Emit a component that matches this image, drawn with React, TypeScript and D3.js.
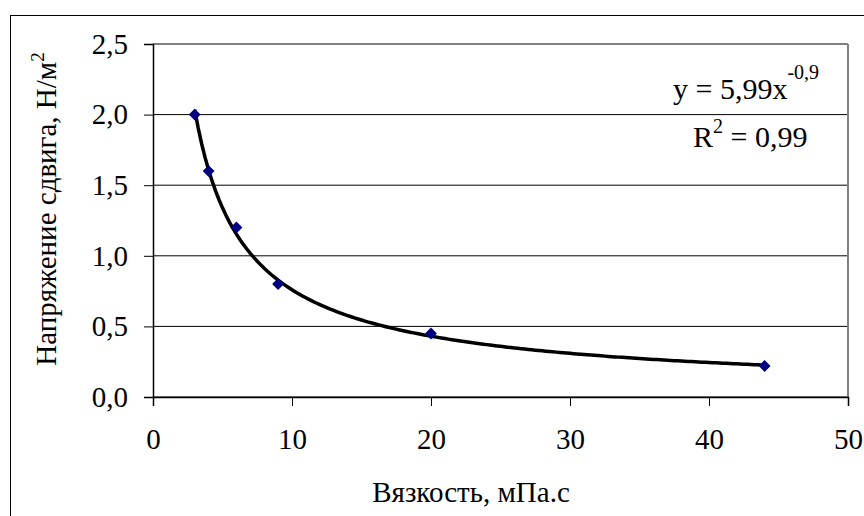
import * as d3 from "d3";
import { useEffect, useRef } from "react";

const viscosity = [3, 4, 6, 9, 20, 44];
const shearStress = [2.0, 1.6, 1.2, 0.8, 0.45, 0.22];
const xTicks = [0, 10, 20, 30, 40, 50];
const yTicks = [0, 0.5, 1.0, 1.5, 2.0, 2.5];

const fmt = (v: number) => v.toFixed(1).replace(".", ",");

export default function App() {
  const svgRef = useRef<SVGSVGElement>(null);
  const width = 864;
  const height = 516;
  const plot = { left: 153, right: 848, top: 44, bottom: 397 };
  const ff = "Liberation Serif";

  useEffect(() => {
    const svg = d3.select(svgRef.current);
    svg.selectAll("*").remove();

    const x = d3.scaleLinear().domain([0, 50]).range([plot.left, plot.right]);
    const y = d3.scaleLinear().domain([0, 2.5]).range([plot.bottom, plot.top]);

    svg.append("rect").attr("width", width).attr("height", height).attr("fill", "#fff");
    svg.append("rect").attr("x", 10.5).attr("y", 15.5).attr("width", width).attr("height", height)
      .attr("fill", "none").attr("stroke", "#000");

    // gridlines + frame
    svg.selectAll("line.grid").data(yTicks).enter().append("line").attr("class", "grid")
      .attr("x1", plot.left).attr("x2", plot.right)
      .attr("y1", (d) => y(d)).attr("y2", (d) => y(d)).attr("stroke", "#000");
    svg.append("line").attr("x1", plot.right).attr("x2", plot.right)
      .attr("y1", plot.top).attr("y2", plot.bottom).attr("stroke", "#808080").attr("stroke-width", 2);

    // axes
    const gy = svg.append("g").attr("transform", `translate(${plot.left},0)`)
      .call(d3.axisLeft(y).tickValues(yTicks).tickFormat((d) => fmt(+d)).tickSize(9).tickPadding(16));
    const gx = svg.append("g").attr("transform", `translate(0,${plot.bottom})`)
      .call(d3.axisBottom(x).tickValues(xTicks).tickSize(9).tickPadding(22));
    [gx, gy].forEach((g) => {
      g.select(".domain").attr("stroke", "#000").attr("stroke-width", 1.5);
      g.selectAll(".tick line").attr("stroke", "#000");
      g.selectAll(".tick text").attr("fill", "#000").style("font-family", ff).style("font-size", "29px");
    });

    svg.append("text").attr("x", 471).attr("y", 502).attr("text-anchor", "middle")
      .style("font-family", ff).style("font-size", "29px").text("Вязкость, мПа.с");
    const yl = svg.append("text").attr("transform", "translate(56,209) rotate(-90)")
      .attr("text-anchor", "middle").style("font-family", ff).style("font-size", "29px");
    yl.append("tspan").text("Напряжение сдвига, Н/м");
    yl.append("tspan").attr("dy", -12).style("font-size", "19px").text("2");

    // power trendline fitted in log space (as Excel does)
    const lx = viscosity.map(Math.log);
    const ly = shearStress.map(Math.log);
    const mx = d3.mean(lx)!;
    const my = d3.mean(ly)!;
    const b = d3.sum(lx, (v, i) => (v - mx) * (ly[i] - my)) / d3.sum(lx, (v) => (v - mx) ** 2);
    const a = Math.exp(my - b * mx);
    const line = d3.line<number>().x((d) => x(d)).y((d) => y(a * Math.pow(d, b)));
    svg.append("path").attr("d", line(d3.range(3, 44.01, 0.25))!)
      .attr("fill", "none").attr("stroke", "#000").attr("stroke-width", 3.5);

    svg.selectAll("path.pt").data(viscosity).enter().append("path").attr("class", "pt")
      .attr("d", d3.symbol(d3.symbolDiamond2, 90)()!)
      .attr("transform", (d, i) => `translate(${x(d)},${y(shearStress[i])})`)
      .attr("fill", "#000080");

    const eq = svg.append("text").attr("x", 673).attr("y", 99)
      .style("font-family", ff).style("font-size", "30px");
    eq.append("tspan").text("y = 5,99x");
    eq.append("tspan").attr("dy", -20).style("font-size", "20px").text("-0,9");
    const r2 = svg.append("text").attr("x", 693).attr("y", 147)
      .style("font-family", ff).style("font-size", "30px");
    r2.append("tspan").text("R");
    r2.append("tspan").attr("dy", -14).style("font-size", "20px").text("2");
    r2.append("tspan").attr("dy", 14).text(" = 0,99");
  }, []);

  return (
    <svg ref={svgRef} width={width} height={height} style={{ position: "absolute", left: 0, top: 0 }} />
  );
}
